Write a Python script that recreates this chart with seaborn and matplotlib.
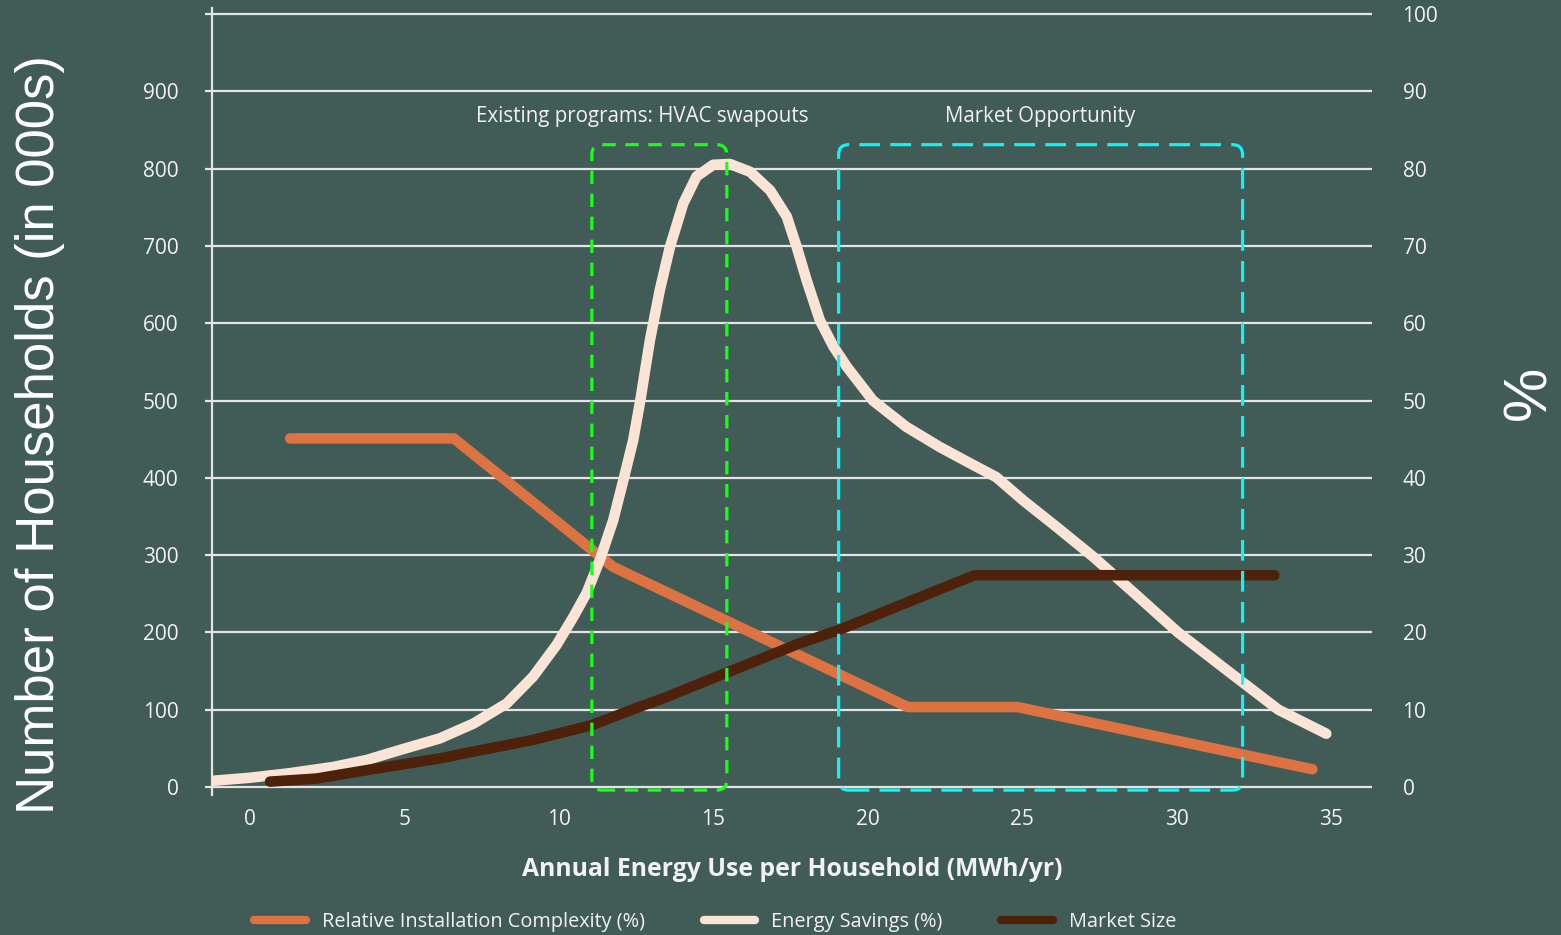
import matplotlib
matplotlib.use("Agg")
import matplotlib.pyplot as plt
import seaborn as sns
import pandas as pd
from matplotlib.patches import FancyBboxPatch
from matplotlib.lines import Line2D

# ---------------- data ----------------
complexity_x = [1.3, 6.6, 11.75, 21.3, 24.85, 34.4]
complexity_pct = [45.1, 45.1, 28.5, 10.35, 10.35, 2.3]

savings_x = [-1.23, 0.0, 1.3, 2.7, 3.78, 4.86, 6.15, 7.23, 8.31, 9.17, 9.93, 10.47,
             10.9, 11.33, 11.76, 12.09, 12.41, 12.65, 12.95, 13.27, 13.6, 14.03,
             14.46, 15.0, 15.54, 16.19, 16.84, 17.38, 17.7, 18.02, 18.45, 18.89,
             19.32, 20.17, 21.25, 22.33, 23.4, 24.16, 25.03, 26.1, 27.3, 28.6,
             30.05, 31.7, 33.3, 34.85]
savings_pct = [0.8, 1.2, 1.8, 2.6, 3.5, 4.8, 6.3, 8.2, 10.8, 14.3, 18.4, 22.0,
               25.1, 29.4, 34.5, 39.7, 44.9, 50.3, 57.8, 64.3, 69.9, 75.5,
               79.0, 80.5, 80.6, 79.6, 77.2, 73.8, 69.9, 65.6, 60.4, 57.0,
               54.4, 50.0, 46.6, 44.0, 41.7, 40.1, 37.1, 33.7, 29.8, 25.2,
               20.0, 14.9, 10.0, 6.9]

market_x = [0.65, 2.16, 3.8, 6.15, 7.0, 9.17, 11.06, 12.63, 13.4, 14.57, 17.8, 19.06, 23.46, 33.17]
market_k = [7, 11, 22, 37, 44, 61, 80, 104, 115, 134, 186, 203, 274, 274]

x_ticks = [0, 5, 10, 15, 20, 25, 30, 35]
left_ticks = [0, 100, 200, 300, 400, 500, 600, 700, 800, 900, 1000]
left_labels = ["0", "100", "200", "300", "400", "500", "600", "700", "800", "900", ""]
right_ticks = [0, 10, 20, 30, 40, 50, 60, 70, 80, 90, 100]

series_names = ["Relative Installation Complexity (%)", "Energy Savings (%)", "Market Size"]

box_labels = ["Existing programs: HVAC swapouts", "Market Opportunity"]
box_label_x = [12.69, 25.58]
box_x = [(11.07, 15.44), (19.06, 32.14)]
box_y = (-4.0, 831.0)

# ---------------- style ----------------
BG = "#415b57"
GRID = "#e4e4e4"
TXT = "#f2f2f2"
C_ORANGE = "#dd7342"
C_CREAM = "#fbe4d6"
C_BROWN = "#4e220a"
C_GREEN = "#19ff19"
C_CYAN = "#11f4f4"

sns.set_theme(style="white")
plt.rcParams["font.family"] = ["Open Sans", "DejaVu Sans"]

W, H = 1561, 935
fig = plt.figure(figsize=(W / 100, H / 100), dpi=100, facecolor=BG)
L, R, T, B = 212, 1372, 8, 795
ax = fig.add_axes([L / W, 1 - B / H, (R - L) / W, (B - T) / H])
ax.set_facecolor(BG)

ax2 = ax.twinx()
ax2.patch.set_visible(False)

ax.set_xlim(-1.23, 36.33)
ax.set_ylim(-1.03, 100.78)
ax2.set_ylim(-10.3, 1007.8)

# gridlines on the primary axes (drawn under everything)
for v in right_ticks:
    ax.axhline(v, color=GRID, lw=1.6, zorder=0.5)

df_c = pd.DataFrame({"x": complexity_x, "y": complexity_pct})
df_s = pd.DataFrame({"x": savings_x, "y": savings_pct})
df_m = pd.DataFrame({"x": market_x, "y": market_k})

line_kw = dict(linewidth=7.6, sort=False, legend=False,
               solid_capstyle="round", solid_joinstyle="round")
sns.lineplot(data=df_c, x="x", y="y", ax=ax, color=C_ORANGE, zorder=2, **line_kw)
sns.lineplot(data=df_s, x="x", y="y", ax=ax, color=C_CREAM, zorder=3, **line_kw)
sns.lineplot(data=df_m, x="x", y="y", ax=ax2, color=C_BROWN, zorder=2, **line_kw)

# dashed rounded boxes
for (x0, x1), col, dash in zip(box_x, [C_GREEN, C_CYAN], [(4.2, 3.0), (6.5, 3.2)]):
    p = FancyBboxPatch((x0, box_y[0]), x1 - x0, box_y[1] - box_y[0],
                       boxstyle="round,pad=0,rounding_size=0.32", mutation_aspect=40,
                       fill=False, edgecolor=col, linewidth=2.3,
                       linestyle=(0, dash), zorder=5, clip_on=False)
    ax2.add_patch(p)

for lab, lx in zip(box_labels, box_label_x):
    ax2.text(lx, 866.8, lab, ha="center", va="center", color=TXT, fontsize=14.8)

# axes / ticks
for a in (ax, ax2):
    for s in a.spines.values():
        s.set_visible(False)
ax.spines["left"].set_visible(True)
ax.spines["left"].set_color(GRID)
ax.spines["left"].set_linewidth(1.6)

ax.set_xticks(x_ticks)
ax.set_xticklabels([str(t) for t in x_ticks])
ax.tick_params(axis="x", length=0, pad=10, labelsize=15, labelcolor=TXT)

ax.yaxis.tick_right()
ax.set_yticks(right_ticks)
ax.set_yticklabels([str(t) for t in right_ticks])
ax.tick_params(axis="y", length=0, pad=22, labelsize=15, labelcolor=TXT)

ax2.yaxis.tick_left()
ax2.set_yticks(left_ticks)
ax2.set_yticklabels(left_labels)
ax2.tick_params(axis="y", length=5, width=1.6, color=GRID, pad=19, labelsize=15,
                labelcolor=TXT, left=True, right=False, labelleft=True, labelright=False)

ax.set_xlabel("")
ax.set_ylabel("")
ax2.set_ylabel("")

# axis titles
fig.text(792 / W, 1 - 870 / H, "Annual Energy Use per Household (MWh/yr)",
         ha="center", va="center", color=TXT, fontsize=17.8, fontweight="bold")
fig.text(40 / W, 1 - 435 / H, "Number of Households (in 000s)", rotation=90,
         ha="center", va="center", color="white", fontsize=38,
         family=["Liberation Sans", "DejaVu Sans"])
fig.text(1530 / W, 1 - 393 / H, "%", rotation=90, ha="center", va="center",
         color="white", fontsize=44, family=["Liberation Sans", "DejaVu Sans"])

# legend
handles = [Line2D([], [], color=c, lw=6, solid_capstyle="round")
           for c in (C_ORANGE, C_CREAM, C_BROWN)]
fig.legend(handles, series_names, loc="center left",
           bbox_to_anchor=(254 / W, 1 - 922 / H), ncol=3, frameon=False,
           fontsize=14.3, labelcolor=TXT, handlelength=2.6, handletextpad=0.8,
           columnspacing=2.97, borderpad=0, borderaxespad=0)

fig.savefig("out.png", dpi=100, facecolor=BG)
